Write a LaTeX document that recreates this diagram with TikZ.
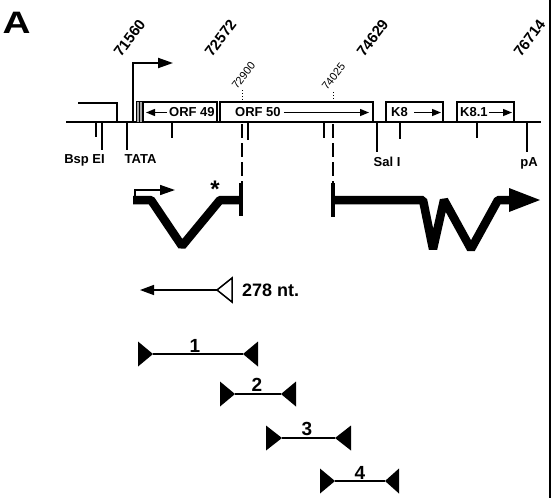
\documentclass[tikz,border=0pt]{standalone}
\usepackage{fontspec}
\setmainfont{Liberation Sans}
\usetikzlibrary{arrows.meta}
\begin{document}
\begin{tikzpicture}[x=1pt,y=-1pt,
  lbl/.style={font=\bfseries\fontsize{13}{13}\selectfont, inner sep=0pt, anchor=base},
  poslbl/.style={font=\bfseries\fontsize{15}{15}\selectfont, inner sep=0pt, anchor=base west, rotate=53},
  smalllbl/.style={font=\fontsize{11}{11}\selectfont, inner sep=0pt, anchor=base west, rotate=52},
  boxtxt/.style={font=\bfseries\fontsize{13}{13}\selectfont, inner sep=0pt, anchor=west},
  orfbox/.style={draw, line width=1.8pt},
  tickline/.style={line width=1.8pt},
  txtarrow/.style={line width=1.4pt, -{Triangle[length=9pt,width=7pt]}},
  transcript/.style={line width=8.5pt, line join=bevel},
  primer/.style={line width=1.5pt},
  pdigit/.style={font=\bfseries\fontsize{19}{19}\selectfont, inner sep=0pt},
  dashline/.style={line width=1.4pt, dash pattern=on 14pt off 5pt},
  dotline/.style={line width=1pt, dash pattern=on 1pt off 2pt},
]
\useasboundingbox (0,0) rectangle (553,498);
% right border
\draw[line width=2pt] (550,0) -- (550,498);
% panel letter
\node[font=\bfseries\fontsize{31}{31}\selectfont, xscale=1.25, inner sep=0pt] (A) at (16.5,23) {A};

% main genomic line
\coordinate (L0) at (66,122);
\coordinate (L1) at (541,122);
\draw[line width=2.4pt] (L0) -- (L1);
% upstream step
\draw[line width=1.5pt] (78,103) -- (117,103) -- (117,122);
% grey bar
\draw[fill=gray!70, line width=0.8pt] (136,101) rectangle (142,122);
\draw[line width=0.8pt] (139,101) -- (139,122);
% transcription start
\coordinate (tss0) at (133,122);
\coordinate (tss1) at (173,63);
\draw[line width=2pt, -{Triangle[length=15pt,width=10pt]}] (tss0) |- (tss1);

% ORF boxes
\draw[orfbox] (143,102) rectangle (217,122);
\draw[orfbox] (220,102) rectangle (373,122);
\draw[orfbox] (386,102) rectangle (443,122);
\draw[orfbox] (457,102) rectangle (514,122);

\node[boxtxt] (orf49) at (169,112.5) {ORF 49};
\draw[txtarrow] ([xshift=-2pt]orf49.west) -- (146,112.5);
\node[boxtxt] (orf50) at (235,112.5) {ORF 50};
\draw[txtarrow] ([xshift=3pt]orf50.east) -- (369,112.5);
\node[boxtxt] (k8) at (391,112.5) {K8};
\draw[txtarrow] ([xshift=6pt]k8.east) -- (441,112.5);
\node[boxtxt] (k81) at (460,112.5) {K8.1};
\draw[txtarrow] ([xshift=1pt]k81.east) -- (512,112.5);

% ticks
\draw[tickline] (96,122) -- (96,137);
\draw[tickline] (102,122) -- (102,150);
\draw[tickline] (127,122) -- (127,150);
\draw[tickline] (172,122) -- (172,138);
\draw[tickline] (248,122) -- (248,140);
\draw[tickline] (324,122) -- (324,138);
\draw[tickline] (377,122) -- (377,152);
\draw[tickline] (400,122) -- (400,139);
\draw[tickline] (477,122) -- (477,138);
\draw[tickline] (527,122) -- (527,152);

\node[lbl] (bsp) at (84.5,163) {Bsp EI};
\node[lbl] (tata) at (140.5,163) {TATA};
\node[lbl] (sal) at (387,166) {Sal I};
\node[lbl] (pa) at (529,166) {pA};

% coordinates
\node[poslbl] (p1) at (121,58) {71560};
\node[poslbl] (p2) at (212,58) {72572};
\node[poslbl] (p3) at (364,58) {74629};
\node[poslbl] (p4) at (521,58) {76714};
\node[smalllbl] (s1) at (237,90) {72900};
\node[smalllbl] (s2) at (327,91) {74025};
\draw[dotline] (242,90) -- (242,101);
\draw[dotline] (333,92) -- (333,101);

% dashed guides
\coordinate (d1a) at (242,124);
\coordinate (d1b) at (242,183);
\coordinate (d2a) at (333,124);
\coordinate (d2b) at (333,183);
\draw[dashline] (d1a) -- (d1b);
\draw[dashline] (d2a) -- (d2b);

% left transcript
\draw[transcript] (133,200) -- (151,200) -- (182,246) -- (220,200) -- (241,200);
\draw[line width=4pt] (241,183) -- (241,216);
\draw[line width=1.5pt, -{Triangle[length=15pt,width=10pt]}] (135,196) -- (135,190) -- (175,190);
\node[font=\bfseries\fontsize{24}{24}\selectfont, inner sep=0pt, anchor=base] (ast) at (215,197) {*};

% right transcript
\draw[line width=4pt] (333,183) -- (333,217);
\draw[transcript] (333,200) -- (423,200) -- (433,249) -- (444,200) -- (471,249) -- (498,200) -- (512,200);
\fill (509,188) -- (540,200) -- (509,212) -- cycle;

% 278 nt probe
\coordinate (pr0) at (217,290);
\coordinate (pr1) at (140,290);
\draw[line width=1.5pt, -{Triangle[length=14pt,width=10pt]}] (pr0) -- (pr1);
\draw[line width=1.5pt, fill=white] (pr0) -- (232,278) -- (232,302) -- cycle;
\node[font=\bfseries\fontsize{18}{18}\selectfont, anchor=west, inner sep=0pt] (nt) at (242,290) {278 nt.};

% primer pairs
\foreach \lb/\lt/\rt/\rb/\yy/\lx/\ly/\n in {138/153/243/258/354/195/345.5/1, 220/235/281/296/394/257/385/2, 266/282/335/351/438/307/429/3, 320/335/385/399/481/360/473/4}{
  \coordinate (ql\n) at (\lt,\yy);
  \coordinate (qr\n) at (\rt,\yy);
  \draw[primer] (ql\n) -- (qr\n);
  \fill (\lb,\yy-12.5) -- (ql\n) -- (\lb,\yy+12.5) -- cycle;
  \fill (\rb,\yy-12.5) -- (qr\n) -- (\rb,\yy+12.5) -- cycle;
  \node[pdigit] (n\n) at (\lx,\ly) {\n};
}
\end{tikzpicture}
\end{document}
